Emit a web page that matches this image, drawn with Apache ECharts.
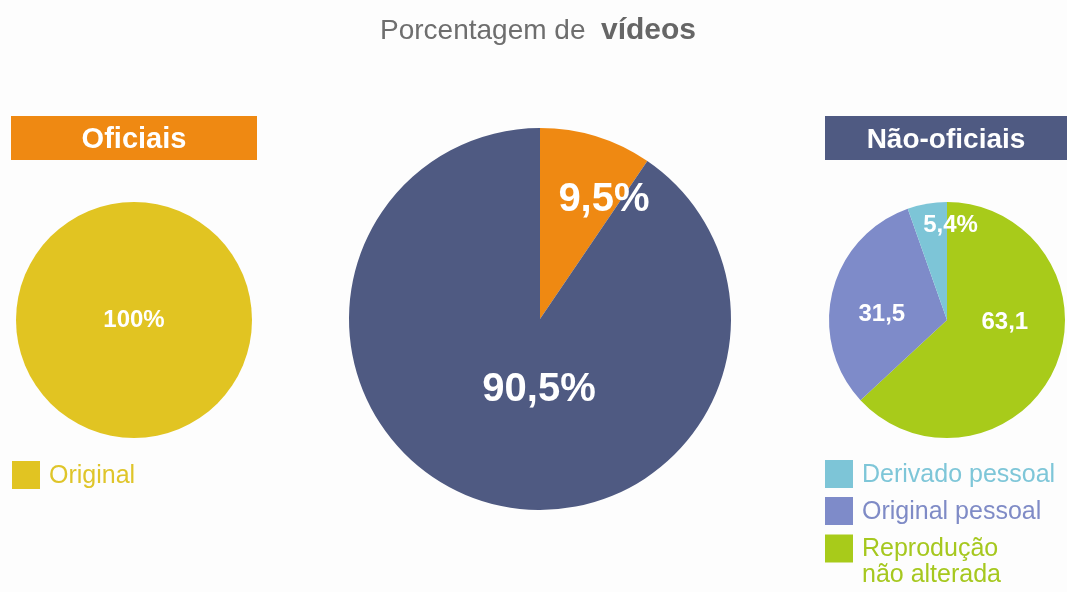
<!DOCTYPE html>
<html>
<head>
<meta charset="utf-8">
<script src="https://cdn.jsdelivr.net/npm/echarts@6/dist/echarts.min.js"></script>
<style>
  html, body { margin: 0; padding: 0; background: #fdfdfd; }
  #main { width: 1067px; height: 592px; }
</style>
</head>
<body>
<div id="main"></div>
<script>
// dados
var oficiaisNames = ["Original"];
var oficiaisValues = [100];

var totalNames = ["Oficiais", "Não-oficiais"];
var totalValues = [9.5, 90.5];

var naoOficiaisNames = ["Reprodução não alterada", "Original pessoal", "Derivado pessoal"];
var naoOficiaisValues = [63.1, 31.5, 5.4];
var naoOficiaisPct = [false, false, true]; // só o menor leva "%"

var font = "Liberation Sans, Arial, sans-serif";
var white = "#ffffff";

function fmt(v) {
  return String(v).replace(".", ",");
}

function toData(names, values, colors) {
  return names.map(function (n, i) {
    return { name: n, value: values[i], itemStyle: { color: colors[i] } };
  });
}

// deslocamento dos rotulos (dx, dy) em relacao ao meio da fatia
var totalOffsets = [[35, -25], [28, -23]];
var naoOffsets = [[1, -22], [-5, 9], [14, -34]];

var myChart = echarts.init(document.getElementById("main"), null, { renderer: "canvas" });

function legendItem(name, pos, color, fmtFn) {
  return {
    data: [name],
    left: pos.left, top: pos.top, padding: 0,
    icon: "rect", itemWidth: 28, itemHeight: 28,
    selectedMode: false,
    formatter: fmtFn || function (n) { return "{t|" + n + "}"; },
    textStyle: {
      fontFamily: font, fontSize: 25, lineHeight: 27, color: color,
      rich: {
        t: { fontFamily: font, fontSize: 25, lineHeight: 27, color: color, padding: [2, 0, 0, 4] },
        u: { fontFamily: font, fontSize: 25, lineHeight: 27, color: color, padding: [0, 0, 0, 4] }
      }
    }
  };
}

myChart.setOption({
  backgroundColor: "#fdfdfd",
  animation: false,
  title: {
    text: "{n|Porcentagem de  }{b|vídeos}",
    left: 380,
    top: 16,
    padding: 0,
    textStyle: {
      fontWeight: "normal",
      rich: {
        n: { fontFamily: font, fontSize: 28, fontWeight: "normal", color: "#6e6e6e" },
        b: { fontFamily: font, fontSize: 30, fontWeight: "bold", color: "#666666" }
      }
    }
  },
  legend: [
    legendItem("Original", { left: 12, top: 461 }, "#dfc52a"),
    legendItem("Derivado pessoal", { left: 825, top: 460 }, "#7ec6d8"),
    legendItem("Original pessoal", { left: 825, top: 497 }, "#7f8bc6"),
    // linha vazia em cima para a primeira linha ficar alinhada ao quadrado
    legendItem("Reprodução não alterada", { left: 825, top: 508 }, "#a6c81f",
      function () { return "{t|\u00a0}\n{t|Reprodução}\n{u|não alterada}"; })
  ],
  graphic: [
    {
      type: "rect",
      shape: { x: 11, y: 116, width: 246, height: 44 },
      style: { fill: "#ef8912" },
      textContent: {
        style: { text: "Oficiais", fill: white, fontFamily: font, fontSize: 29, fontWeight: "bold" }
      },
      textConfig: { position: "inside", offset: [0, 2] }
    },
    {
      type: "rect",
      shape: { x: 825, y: 116, width: 242, height: 44 },
      style: { fill: "#4f5a82" },
      textContent: {
        style: { text: "Não-oficiais", fill: white, fontFamily: font, fontSize: 28, fontWeight: "bold" }
      },
      textConfig: { position: "inside", offset: [0, 2] }
    }
  ],
  series: [
    {
      type: "pie",
      center: [134, 320],
      radius: 118,
      startAngle: 90,
      silent: true,
      label: {
        position: "center",
        formatter: function (p) { return fmt(p.value) + "%"; },
        color: white, fontFamily: font, fontSize: 24, fontWeight: "bold"
      },
      labelLine: { show: false },
      data: toData(oficiaisNames, oficiaisValues, ["#e1c422"])
    },
    {
      type: "pie",
      center: [540, 319],
      radius: 191,
      startAngle: 90,
      silent: true,
      label: {
        position: "inside",
        formatter: function (p) { return fmt(p.value) + "%"; },
        color: white, fontFamily: font, fontSize: 40, fontWeight: "bold"
      },
      labelLayout: function (p) {
        return { dx: totalOffsets[p.dataIndex][0], dy: totalOffsets[p.dataIndex][1] };
      },
      labelLine: { show: false },
      data: toData(totalNames, totalValues, ["#ef8912", "#4f5a82"])
    },
    {
      type: "pie",
      center: [947, 320],
      radius: 118,
      startAngle: 90,
      silent: true,
      label: {
        position: "inside",
        formatter: function (p) {
          return fmt(p.value) + (naoOficiaisPct[p.dataIndex] ? "%" : "");
        },
        color: white, fontFamily: font, fontSize: 24, fontWeight: "bold"
      },
      labelLayout: function (p) {
        return { dx: naoOffsets[p.dataIndex][0], dy: naoOffsets[p.dataIndex][1] };
      },
      labelLine: { show: false },
      data: toData(naoOficiaisNames, naoOficiaisValues, ["#a8cb1a", "#7e8bc9", "#7dc5d7"])
    }
  ]
});
</script>
</body>
</html>
